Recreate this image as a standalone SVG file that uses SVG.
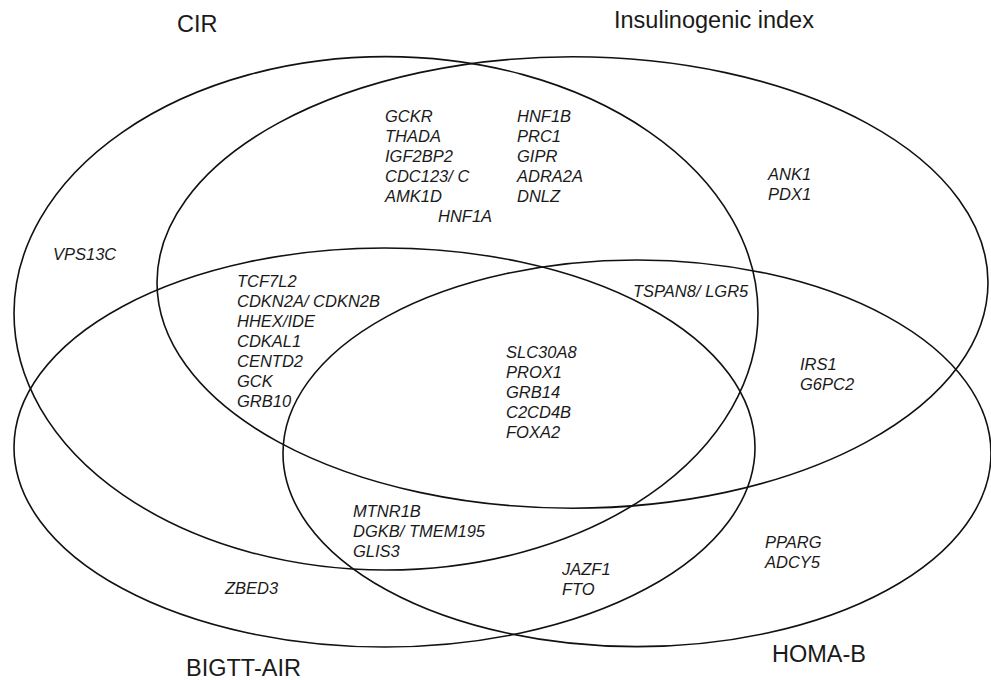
<svg xmlns="http://www.w3.org/2000/svg" width="991" height="680" viewBox="0 0 991 680">
<style>
.set{fill:none;stroke:#111;stroke-width:1.6}
.title{font-family:"Liberation Sans",Arial,sans-serif;font-size:23.5px;fill:#1a1a1a}
.gene{font-family:"Liberation Sans",Arial,sans-serif;font-size:16.5px;font-style:italic;fill:#1a1a1a}
</style>
<rect width="991" height="680" fill="#fff"/>
<g id="set-cir">
<ellipse class="set" cx="386" cy="313.3" rx="372" ry="256.7"/>
<text class="title" x="177" y="32">CIR</text>
</g>
<g id="set-insulinogenic">
<ellipse class="set" cx="572.5" cy="282.5" rx="415.5" ry="225.7"/>
<text class="title" x="614" y="28">Insulinogenic index</text>
</g>
<g id="set-bigtt">
<ellipse class="set" cx="384.5" cy="447.5" rx="370.5" ry="199.5"/>
<text class="title" x="186" y="676">BIGTT-AIR</text>
</g>
<g id="set-homab">
<ellipse class="set" cx="637" cy="453.3" rx="354" ry="193.3"/>
<text class="title" x="772" y="662">HOMA-B</text>
</g>
<g id="connectors"></g>
<g id="genes-cir-ins">
<text class="gene" x="385" y="122">GCKR</text>
<text class="gene" x="385" y="142">THADA</text>
<text class="gene" x="385" y="162">IGF2BP2</text>
<text class="gene" x="385" y="182">CDC123/ C</text>
<text class="gene" x="385" y="202">AMK1D</text>
<text class="gene" x="438" y="222">HNF1A</text>
<text class="gene" x="517" y="122">HNF1B</text>
<text class="gene" x="517" y="142">PRC1</text>
<text class="gene" x="517" y="162">GIPR</text>
<text class="gene" x="517" y="182">ADRA2A</text>
<text class="gene" x="517" y="202">DNLZ</text>
</g>
<g id="genes-ins">
<text class="gene" x="768" y="180">ANK1</text>
<text class="gene" x="768" y="200">PDX1</text>
</g>
<g id="genes-cir">
<text class="gene" x="53" y="260">VPS13C</text>
</g>
<g id="genes-cir-ins-bigtt">
<text class="gene" x="237" y="287">TCF7L2</text>
<text class="gene" x="237" y="307">CDKN2A/ CDKN2B</text>
<text class="gene" x="237" y="327">HHEX/IDE</text>
<text class="gene" x="237" y="347">CDKAL1</text>
<text class="gene" x="237" y="367">CENTD2</text>
<text class="gene" x="237" y="387">GCK</text>
<text class="gene" x="237" y="407">GRB10</text>
</g>
<g id="genes-cir-ins-homab">
<text class="gene" x="633" y="297">TSPAN8/ LGR5</text>
</g>
<g id="genes-all">
<text class="gene" x="506" y="358">SLC30A8</text>
<text class="gene" x="506" y="378">PROX1</text>
<text class="gene" x="506" y="398">GRB14</text>
<text class="gene" x="506" y="418">C2CD4B</text>
<text class="gene" x="506" y="438">FOXA2</text>
</g>
<g id="genes-ins-homab">
<text class="gene" x="800" y="370">IRS1</text>
<text class="gene" x="800" y="390">G6PC2</text>
</g>
<g id="genes-cir-bigtt-homab">
<text class="gene" x="353" y="517">MTNR1B</text>
<text class="gene" x="353" y="537">DGKB/ TMEM195</text>
<text class="gene" x="353" y="557">GLIS3</text>
</g>
<g id="genes-bigtt">
<text class="gene" x="225" y="594">ZBED3</text>
</g>
<g id="genes-bigtt-homab">
<text class="gene" x="562" y="575">JAZF1</text>
<text class="gene" x="562" y="595">FTO</text>
</g>
<g id="genes-homab">
<text class="gene" x="765" y="548">PPARG</text>
<text class="gene" x="765" y="568">ADCY5</text>
</g>
</svg>
